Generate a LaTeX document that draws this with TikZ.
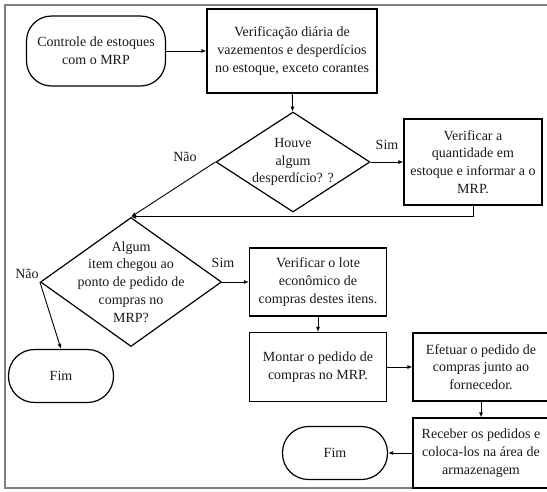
\documentclass[tikz,border=0pt]{standalone}
\usepackage{fontspec}
\setmainfont{Liberation Serif}
\usetikzlibrary{shapes.geometric,arrows.meta}
\begin{document}
\begin{tikzpicture}[x=1pt,y=-1pt,
  every node/.style={font=\fontsize{14}{17.8}\selectfont,text=black!90},
  inicio/.style={draw=black,line width=1.2pt,rounded corners=25pt,minimum width=139pt,minimum height=70pt,inner sep=0pt,align=center},
  fim/.style={draw=black,line width=1.2pt,rounded corners=26pt,minimum width=105pt,minimum height=53pt,inner sep=0pt},
  caixa/.style={draw=black,line width=1.2pt,minimum width=137pt,inner sep=0pt,align=center},
  decisao/.style={draw=black,line width=1.2pt,diamond,inner sep=0pt},
  dtexto/.style={align=center,inner sep=0pt},
  rotulo/.style={inner sep=0pt},
  seta/.style={draw=black,line width=0.9pt,-{Latex[length=5pt,width=4pt]}}]
\useasboundingbox (0,0) rectangle (547,491);
\draw[gray,line width=1.5pt] (549,5) -- (5,5) -- (5,488) -- (549,488);
\node[inicio] (ini) at (96,51) {Controle de estoques\\com o MRP};
\node[caixa,minimum width=170pt,minimum height=84pt] (verif) at (292,51) {Verificação diária de\\vazementos e desperdícios\\no estoque, exceto corantes};
\node[decisao,minimum width=154pt,minimum height=100pt,label={[dtexto]center:{Houve\\algum\\desperdício? ?}}] (desp) at (293,162) {};
\node[caixa,minimum width=138pt,minimum height=86pt] (quant) at (473,162) {Verificar a\\quantidade em\\estoque e informar a o\\MRP.};
\node[decisao,minimum width=181pt,minimum height=129pt,label={[dtexto]center:{Algum\\item chegou ao\\ponto de pedido de\\compras no\\MRP?}}] (ponto) at (131,282) {};
\node[caixa,minimum height=68pt] (lote) at (318,282) {Verificar o lote\\econômico de\\compras destes itens.};
\node[fim] (fim1) at (61,376) {Fim};
\node[caixa,minimum height=69pt] (montar) at (318,367) {Montar o pedido de\\compras no MRP.};
\node[caixa,minimum width=136pt,minimum height=68pt] (efetuar) at (481,367) {Efetuar o pedido de\\compras junto ao\\fornecedor.};
\node[caixa,minimum width=136pt,minimum height=70pt] (receber) at (481,453) {Receber os pedidos e\\coloca-los na área de\\armazenagem};
\node[fim] (fim2) at (335,453) {Fim};
\node[rotulo] (sim1) at (387,145) {Sim};
\node[rotulo] (nao1) at (185,157) {Não};
\node[rotulo] (sim2) at (223,263) {Sim};
\node[rotulo] (nao2) at (27,274) {Não};
\draw[seta] (ini) -- (verif);
\draw[seta] (verif) -- (desp);
\draw[seta] (desp.east) -- (quant);
\draw[seta] (quant.south) |- (ponto.north);
\draw[seta] (desp.west) -- (ponto.north);
\draw[seta] (ponto.east) -- (lote);
\draw[seta] (ponto.west) -- (fim1.north);
\draw[seta] (lote) -- (montar);
\draw[seta] (montar) -- (efetuar);
\draw[seta] (efetuar) -- (receber);
\draw[seta] (receber) -- (fim2);
\end{tikzpicture}
\end{document}
